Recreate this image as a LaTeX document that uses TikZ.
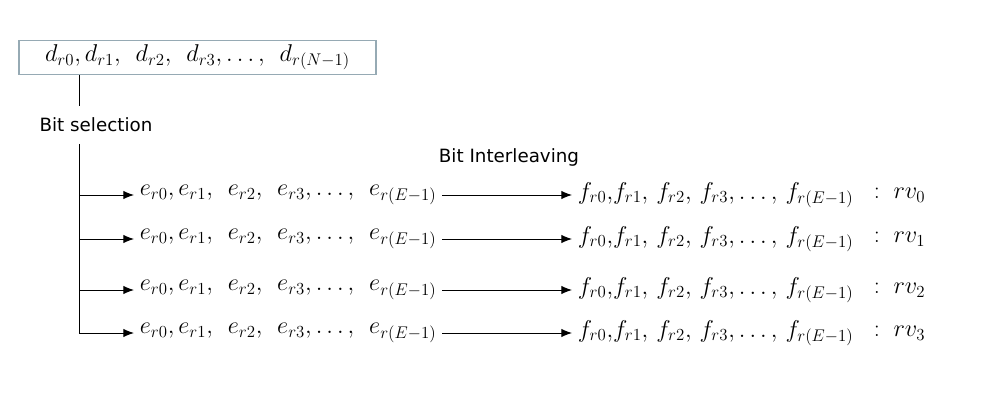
\documentclass[tikz,border=0pt]{standalone}
\usepackage{fontspec}
\setsansfont{DejaVu Sans}
\usepackage{amsmath}
\usepackage{tikz}
\usetikzlibrary{arrows.meta}
\DeclareMathSizes{16}{16}{12.8}{10}
\tikzstyle{arrow} = [-{Latex[length=7.5pt,width=6pt]},line width=0.7pt]
\tikzstyle{seq} = [anchor=west,inner xsep=4pt,font=\fontsize{16}{19}\selectfont]
\tikzstyle{lbl} = [font=\sffamily\fontsize{13}{15}\selectfont]
\definecolor{boxline}{RGB}{150,170,180}

\begin{document}
\begin{tikzpicture}[x=0.025cm,y=-0.025cm]
    \useasboundingbox (0,0) rectangle (987,407);

    % input bits
    \node[draw=boxline,line width=0.8pt,minimum width=8.925cm,minimum height=0.775cm,
          font=\fontsize{16}{19}\selectfont] (dbits) at (197.5,57.5)
        {$d_{r0},d_{r1},\ \,d_{r2},\ \,d_{r3},\ldots,\ \,d_{r(N-1)}$};
    \coordinate (trunk) at (79,0);
    \node[lbl,text height=9.5pt,text depth=0pt,inner ysep=8.5pt] (bitsel) at (96,125) {Bit selection};
    \node[lbl] (bitint) at (509,157) {Bit Interleaving};

    \draw[line width=0.7pt] (dbits.south -| trunk) -- (bitsel.north -| trunk);

    % four redundancy versions
    \foreach \i/\y in {0/195,1/239,2/290,3/333} {
        \node[seq] (e\i) at (134,\y) {$e_{r0},e_{r1},\ \,e_{r2},\ \,e_{r3},\ldots,\ \,e_{r(E-1)}$};
        \node[seq] (f\i) at (572,\y) {$f_{r0},\!f_{r1},\,f_{r2},\,f_{r3},\ldots,\,f_{r(E-1)}$};
        \node[seq] (rv\i) at (868,\y) {$:\ rv_{\i}$};
        \draw[arrow] (trunk |- e\i.west) -- (e\i.west);
        \draw[arrow] (e\i.east) -- (f\i.west);
    }
    \draw[line width=0.7pt] (bitsel.south -| trunk) -- (trunk |- e3.west);

\end{tikzpicture}
\end{document}
